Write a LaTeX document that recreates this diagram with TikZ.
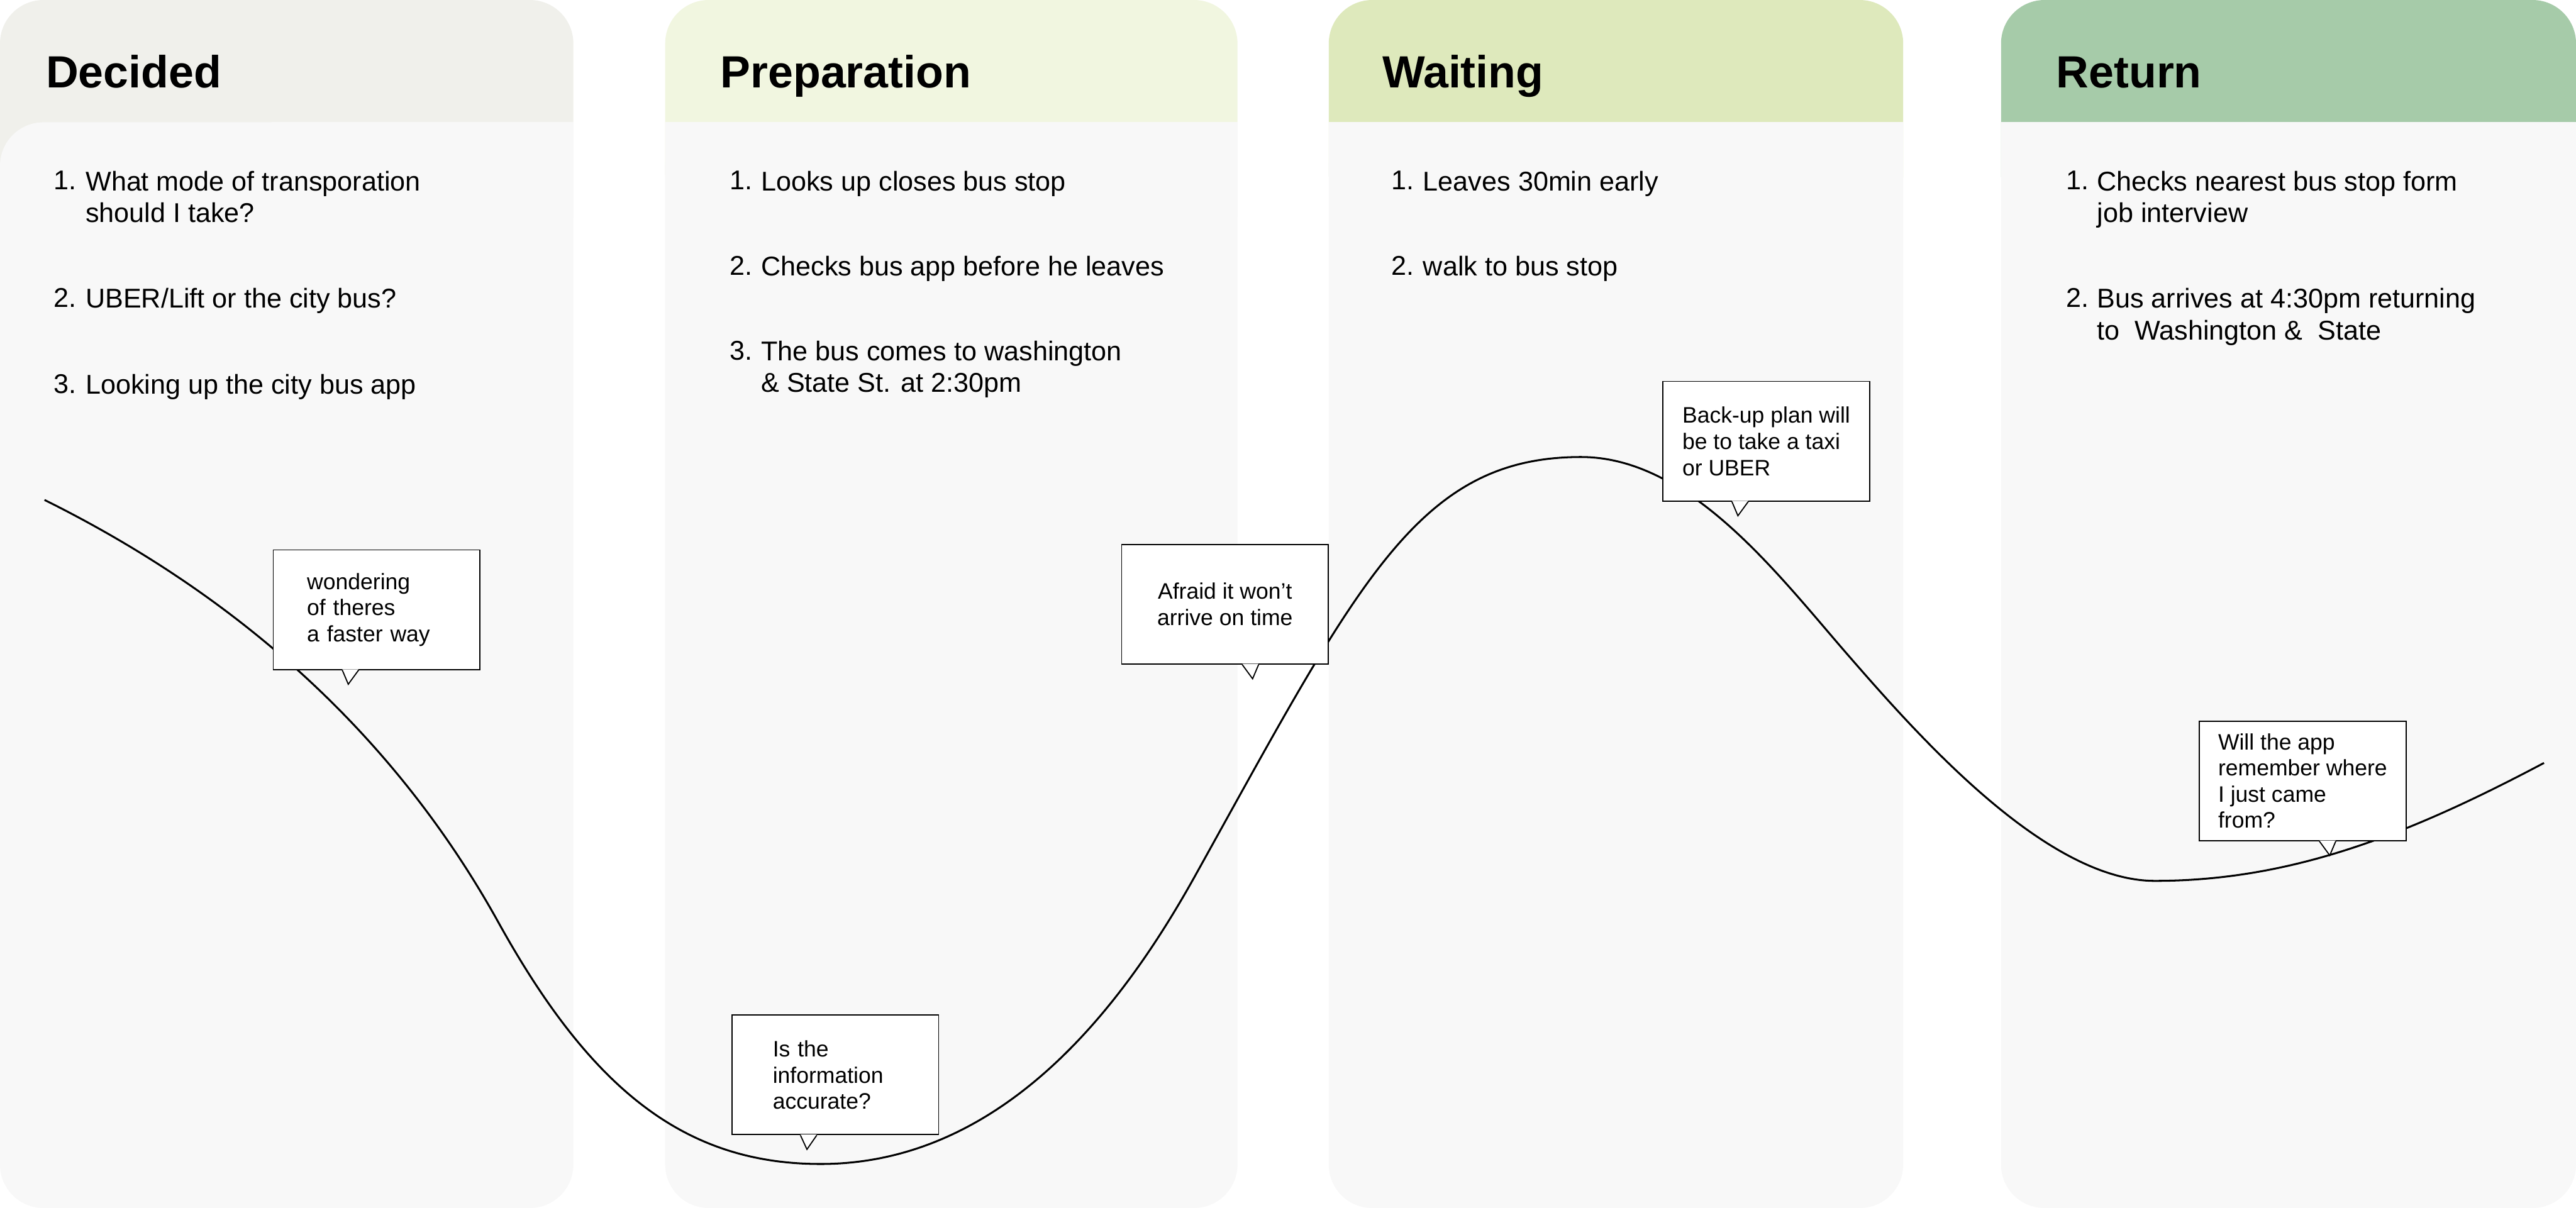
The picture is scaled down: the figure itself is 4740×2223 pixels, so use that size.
\documentclass[tikz,border=0pt]{standalone}
\usepackage{fontspec}
\setmainfont{Liberation Sans}
\usetikzlibrary{calc}

\definecolor{hdA}{HTML}{F0F0EB}
\definecolor{hdB}{HTML}{F1F6E0}
\definecolor{hdC}{HTML}{DEE9BC}
\definecolor{hdD}{HTML}{A6CBA9}
\definecolor{panel}{HTML}{F8F8F8}

% tail under a callout: node, left of base, tip
\newcommand{\calltail}[3]{%
  \fill[white] ($(#1.south west)+(#2,-1.5)$) -- ($(#1.south west)+(#3,26)$) -- ($(#1.south west)+(#2+30,-1.5)$) -- cycle;
  \draw[callline] ($(#1.south west)+(#2,0)$) -- ($(#1.south west)+(#3,26)$) -- ($(#1.south west)+(#2+30,0)$);
}

\begin{document}
\begin{tikzpicture}[x=0.01cm, y=-0.01cm,
    title/.style={anchor=base west, inner sep=0pt, font=\bfseries\fontsize{23.6}{28}\selectfont},
    itemtxt/.style={anchor=north west, inner sep=0pt, align=left, font=\fontsize{14.2}{16.5}\selectfont},
    callout/.style={draw, fill=white, line width=0.6pt, minimum width=3.8cm, minimum height=2.2cm,
                    inner sep=0pt, align=left, font=\fontsize{11.7}{13.7}\selectfont},
    callline/.style={line width=0.6pt, line join=miter},
    journey/.style={line width=1pt}]

  \fill[white] (0,0) rectangle (4740,2223);
  \useasboundingbox (0,0) rectangle (4740,2223);

  % headers
  \fill[hdA, rounded corners=0.8cm] (0,0) rectangle (1055,400);
  \fill[hdB, rounded corners=0.8cm] (1224,0) rectangle (2277,400);
  \fill[hdC, rounded corners=0.8cm] (2445,0) rectangle (3502,400);
  \fill[hdD, rounded corners=0.8cm] (3682,0) rectangle (4740,400);
  % panels
  \fill[panel, rounded corners=0.8cm] (0,225) rectangle (1055,2223);
  \fill[panel, rounded corners=0.8cm] (1224,225) rectangle (2277,2223);
  \fill[panel, rounded corners=0.8cm] (2445,225) rectangle (3502,2223);
  \fill[panel, rounded corners=0.8cm] (3682,225) rectangle (4740,2223);
  \fill[panel] (500,225) rectangle (1055,400);
  \fill[panel] (1224,225) rectangle (2277,400);
  \fill[panel] (2445,225) rectangle (3502,400);
  \fill[panel] (3682,225) rectangle (4740,400);

  % titles
  \node[title] (decided) at (84,161) {Decided};
  \node[title] (prep) at (1325,161) {Preparation};
  \node[title] (waiting) at (2543,161) {Waiting};
  \node[title] (return) at (3783,161) {Return};

  % steps
  \node[itemtxt] (dec1n) at (98,314) {1.};
  \node[itemtxt] (dec1) at (157,314) {What mode of transporation\\should I take?};
  \node[itemtxt] (dec2n) at (98,530) {2.};
  \node[itemtxt] (dec2) at (157,530) {UBER/Lift or the city bus?};
  \node[itemtxt] (dec3n) at (98,688) {3.};
  \node[itemtxt] (dec3) at (157,688) {Looking up the city bus app};

  \node[itemtxt] (prep1n) at (1342,314) {1.};
  \node[itemtxt] (prep1) at (1400,314) {Looks up closes bus stop};
  \node[itemtxt] (prep2n) at (1342,471) {2.};
  \node[itemtxt] (prep2) at (1400,471) {Checks bus app before he leaves};
  \node[itemtxt] (prep3n) at (1342,627) {3.};
  \node[itemtxt] (prep3) at (1400,627) {The bus comes to washington\\\& State St. at 2:30pm};

  \node[itemtxt] (wait1n) at (2560,314) {1.};
  \node[itemtxt] (wait1) at (2618,314) {Leaves 30min early};
  \node[itemtxt] (wait2n) at (2560,471) {2.};
  \node[itemtxt] (wait2) at (2618,471) {walk to bus stop};

  \node[itemtxt] (ret1n) at (3801,314) {1.};
  \node[itemtxt] (ret1) at (3858,314) {Checks nearest bus stop form\\job interview};
  \node[itemtxt] (ret2n) at (3801,530) {2.};
  \node[itemtxt] (ret2) at (3858,530) {Bus arrives at 4:30pm returning\\to\ \ Washington \&\ \ State};

  % emotion curve
  \draw[journey] (82,920) .. controls (380,1068) and (700,1305) .. (918,1699)
    .. controls (1088,2005) and (1260,2142) .. (1510,2142)
    .. controls (1860,2142) and (2080,1826) .. (2200,1610)
    .. controls (2500,1070) and (2609,841) .. (2909,841)
    .. controls (3109,841) and (3270,1055.5) .. (3400,1205)
    .. controls (3530,1354.5) and (3765,1621) .. (3965,1621)
    .. controls (4215,1621) and (4431,1536.5) .. (4681,1404);

  % callouts
  \node[callout, text width=2.56cm] (faster) at (693,1122) {wondering\\of theres\\a faster way};
  \calltail{faster}{128}{139}
  \node[callout, text width=2.3cm] (accurate) at (1537,1978) {Is the\\information\\accurate?};
  \calltail{accurate}{127}{139}
  \node[callout, align=center] (ontime) at (2254,1112) {Afraid it won’t\\arrive on time};
  \calltail{ontime}{223}{242}
  \node[callout] (backup) at (3250,812) {Back-up plan will\\be to take a taxi\\or UBER};
  \calltail{backup}{128}{139}
  \node[callout] (remember) at (4237,1437) {Will the app\\remember where\\I just came\\from?};
  \calltail{remember}{222}{241}
\end{tikzpicture}
\end{document}
